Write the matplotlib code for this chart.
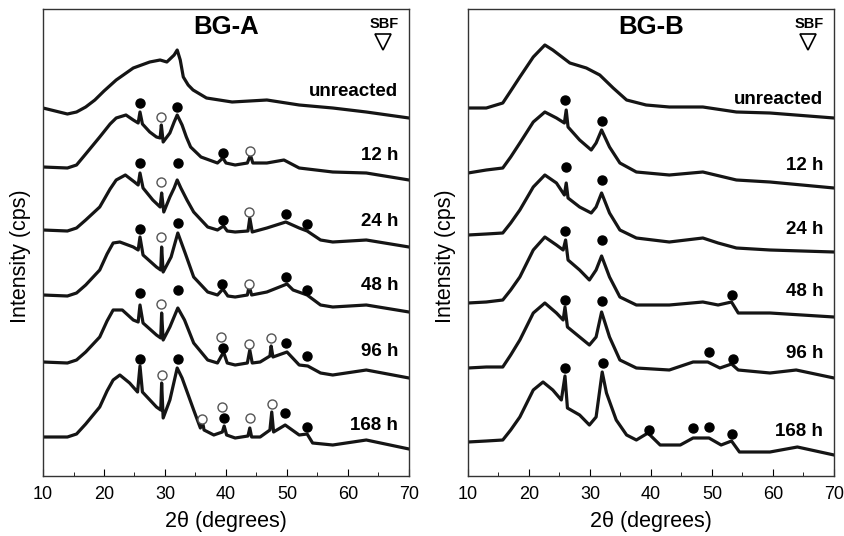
import numpy as np
import matplotlib
matplotlib.use("Agg")
import matplotlib.pyplot as plt
from matplotlib.ticker import MultipleLocator

plt.rcParams['font.family'] = ['Liberation Sans', 'DejaVu Sans']

# ---- BG-A traces (2theta, stacked intensity) ----
a_unr_x = [10, 12, 14, 15.5, 17, 18.5, 20, 22, 24.8, 27.5, 29.2, 30.3, 31.5, 32, 32.5, 33, 33.8, 34.6, 36.8, 41, 46.7,
           52, 57.5, 63, 70]
a_unr_y = [368, 365, 362, 364, 369, 376, 385, 396, 408, 414, 416, 414, 421, 426, 416, 399, 391, 386, 378, 374, 376,
           371, 368, 364, 358]

a_12_x = [10, 14, 15.5, 17, 19.3, 21, 22, 23.6, 24.8, 25.6, 25.9, 26.3, 27.5, 28.6, 29.2, 29.4, 29.7, 30.8, 31.5, 32,
          32.8, 33.5, 34.2, 35.9, 38.6, 39.5, 40, 41.5, 43.5, 44, 44.4, 46.7, 49.5, 52, 57.5, 63, 70]
a_12_y = [309, 308, 311, 322, 339, 352, 358, 361, 356, 353, 364, 352, 344, 339, 338, 351, 334, 343, 354, 361,
          351, 339, 329, 319, 313, 318, 313, 311, 313, 321, 313, 313, 316, 308, 304, 303, 296]

a_24_x = [10, 14, 15.5, 17, 19.3, 21, 22, 23.5, 25, 25.6, 25.9, 26.4, 28, 29.2, 29.45, 29.8, 30.8, 31.5, 32, 32.6,
          33.6, 34.7, 37, 38.6, 39.6, 40.2, 41.5, 43.6, 43.9, 44.3, 46.7, 49.8, 52, 53.3, 55.5, 57.5, 63, 70]
a_24_y = [246, 245, 248, 256, 269, 287, 296, 301, 294, 291, 303, 288, 276, 269, 283, 264, 279, 288, 296, 288,
          276, 264, 249, 246, 250, 245, 244, 245, 258, 244, 248, 254, 248, 245, 236, 234, 236, 229]

a_48_x = [10, 14, 15.5, 17, 19.3, 20.5, 21.5, 22.6, 24.8, 25.6, 25.9, 26.4, 28.6, 29.3, 29.45, 29.7, 31, 32.1, 33.3,
          34.7, 37, 38.6, 39.5, 40.3, 41.5, 43.5, 43.8, 44.2, 46.7, 50, 51, 53.3, 55.5, 57.5, 63, 70]
a_48_y = [181, 180, 183, 191, 206, 222, 233, 234, 229, 226, 239, 221, 209, 206, 229, 204, 219, 243, 223,
          199, 184, 181, 187, 180, 179, 181, 190, 181, 184, 192, 186, 181, 171, 169, 171, 164]

a_96_x = [10, 14, 15.5, 17, 19.3, 20.5, 21.5, 23, 24.8, 25.6, 25.9, 26.4, 28.6, 29.3, 29.45, 29.7, 30.8, 32.1, 33.2,
          34.7, 37, 38.6, 39.6, 40.2, 41.5, 43.5, 43.9, 44.3, 45.6, 47.2, 47.4, 47.7, 50, 52, 53.4, 55.5, 57.5, 63,
          70]
a_96_y = [114, 113, 116, 124, 139, 155, 166, 166, 156, 154, 171, 153, 141, 138, 163, 136, 149, 168, 156,
          133, 116, 113, 124, 113, 111, 113, 126, 113, 114, 120, 130, 119, 124, 111, 110, 103, 101, 106, 98]

a_168_x = [10, 14, 15.5, 17, 19.3, 20.5, 21.5, 22.6, 24.2, 25.5, 25.9, 26.3, 28.6, 29.3, 29.45, 29.7, 30.8, 32, 32.8,
           34.7, 35.8, 36.1, 36.4, 38, 39.4, 39.7, 40.1, 41.5, 43.6, 43.9, 44.2, 45.6, 47.2, 47.5, 47.8, 49.7, 52,
           53.3, 54.2, 57.5, 63, 70]
a_168_y = [39, 39, 42, 52, 69, 85, 96, 101, 93, 84, 110, 84, 69, 66, 93, 58, 76, 108, 98,
           66, 48, 56, 46, 41, 44, 50, 41, 38, 40, 48, 39, 39, 46, 64, 44, 51, 41,
           42, 33, 31, 36, 27]

# ---- BG-B traces ----
b_unr_x = [10, 13, 15.7, 17, 18.5, 20.7, 22.6, 23.9, 26.7, 29.4, 31.6, 33.8, 36, 39.2, 43, 48.5, 54, 59.5, 70]
b_unr_y = [368, 368, 373, 385, 399, 419, 431, 426, 413, 408, 401, 388, 376, 371, 369, 369, 364, 363, 358]

b_12_x = [10, 13, 15.7, 17, 18.5, 20.7, 22.6, 24.5, 25.8, 26.1, 26.4, 28.3, 30.2, 31, 31.9, 33.2, 34.9, 37.6, 43,
          48.5, 54, 59.5, 70]
b_12_y = [303, 306, 308, 319, 333, 354, 364, 358, 353, 366, 349, 336, 326, 333, 346, 329, 313, 304, 301,
          304, 296, 294, 288]

b_24_x = [10, 13, 15.7, 17, 18.5, 20.7, 22.6, 24.5, 25.8, 26.1, 26.4, 28.3, 30.2, 31, 31.9, 33.2, 34.9, 37.6, 43,
          48.5, 51, 54, 59.5, 70]
b_24_y = [241, 242, 243, 253, 266, 289, 301, 293, 281, 293, 278, 269, 263, 269, 283, 263, 246, 238, 234,
          238, 233, 228, 226, 224]

b_48_x = [10, 13, 15.7, 17, 18.5, 20.7, 22.6, 24.5, 25.6, 26, 26.4, 28.3, 29.9, 31, 31.9, 33.2, 34.9, 37.6, 43,
          48.5, 51, 53.2, 54.3, 59.5, 70]
b_48_y = [173, 174, 176, 186, 199, 226, 239, 231, 226, 236, 216, 206, 196, 206, 220, 199, 179, 171, 171,
          174, 171, 174, 163, 163, 159]

b_96_x = [10, 13, 15.7, 17, 18.5, 20.7, 22.6, 24.5, 25.6, 25.9, 26.3, 28.3, 29.9, 31, 31.9, 33.2, 34.9, 37.6, 43,
          46.9, 49.3, 51.3, 53.2, 54.3, 59.5, 63.8, 70]
b_96_y = [108, 109, 109, 121, 136, 163, 173, 163, 156, 169, 149, 139, 131, 139, 164, 139, 116, 108, 106,
          114, 114, 108, 112, 106, 103, 106, 98]

b_168_x = [10, 13, 15.7, 17, 18.5, 20.7, 22.3, 23.9, 25.3, 25.9, 26.3, 28.3, 29.9, 31, 32, 32.7, 34.3, 36, 37.6,
           39.5, 41.5, 44.8, 46.9, 49.5, 51.5, 53.2, 54.5, 59.5, 64, 70]
b_168_y = [34, 35, 36, 46, 59, 86, 94, 86, 76, 100, 68, 61, 51, 59, 104, 83, 56, 41, 36,
           43, 31, 31, 38, 38, 31, 35, 24, 24, 29, 21]

labels = ["unreacted", "12 h", "24 h", "48 h", "96 h", "168 h"]
a_label_y = [384, 320, 254, 191, 124, 51]
b_label_y = [377, 311, 246, 184, 122, 44]

# phase markers: filled = apatite, open = calcite
a_filled_x = [25.9, 32.0, 39.5,
              25.9, 32.1, 39.5, 49.9, 53.3,
              25.9, 32.1, 39.4, 49.9, 53.3,
              25.9, 32.1, 39.5, 49.9, 53.3,
              25.9, 32.1, 39.6, 49.7, 53.3]
a_filled_y = [373, 369, 323,
              313, 313, 256, 262, 252,
              247, 253, 192, 199, 186,
              183, 186, 128, 133, 120,
              117, 117, 58, 63, 49]
a_open_x = [29.4, 43.9,
            29.4, 43.8,
            29.4, 43.8,
            29.4, 39.2, 43.8, 47.4,
            29.5, 36.0, 39.3, 43.9, 47.5]
a_open_y = [359, 325,
            294, 264,
            239, 192,
            172, 139, 132, 138,
            101, 57, 69, 58, 72]

b_filled_x = [25.9, 32.0,
              26.1, 32.0,
              25.9, 32.0, 53.3,
              25.9, 32.0, 49.5, 53.4,
              25.9, 32.1, 39.7, 46.9, 49.5, 53.3]
b_filled_y = [376, 355,
              309, 296,
              245, 236, 181,
              176, 175, 124, 117,
              108, 113, 46, 48, 49, 42]


def draw_panel(ax, traces, label_y, title, filled, opened=None):
    for x, y in traces:
        ax.plot(x, y, color='#151515', lw=2.3, solid_joinstyle='round')
    ax.plot(filled[0], filled[1], 'o', ms=6.5, color='black', ls='none')
    if opened is not None:
        ax.plot(opened[0], opened[1], 'o', ms=6.5, mfc='white', mec='#555555', mew=1.0, ls='none')
    for lab, ly in zip(labels, label_y):
        ax.text(68.2, ly, lab, ha='right', va='center', fontsize=13.5, fontweight='bold')
    ax.text(40, 449, title, ha='center', va='center', fontsize=18.5, fontweight='bold')
    ax.text(65.9, 452, "SBF", ha='center', va='center', fontsize=10.5, fontweight='bold')
    ax.plot([65.7], [434], 'v', ms=12, mfc='white', mec='black', mew=1.2)
    ax.set_xlim(10, 70)
    ax.set_ylim(0, 467)
    ax.xaxis.set_major_locator(MultipleLocator(10))
    ax.xaxis.set_minor_locator(MultipleLocator(5))
    ax.tick_params(axis='x', which='major', direction='in', length=5, labelsize=13, pad=7, top=False)
    ax.tick_params(axis='x', which='minor', direction='in', length=3, top=False)
    ax.set_yticks([])
    for sp in ax.spines.values():
        sp.set_color('#333333')
        sp.set_linewidth(1.0)
    ax.set_xlabel("2θ (degrees)", fontsize=15.5, labelpad=6)
    ax.set_ylabel("Intensity (cps)", fontsize=15.5)
    ax.yaxis.set_label_coords(-0.032, 0.47)


fig = plt.figure(figsize=(8.45, 5.36), dpi=100, facecolor='white')
ax1 = fig.add_axes([43 / 845, 60 / 536, 366 / 845, 467 / 536])
ax2 = fig.add_axes([468 / 845, 60 / 536, 366 / 845, 467 / 536])

a_traces = [(a_unr_x, a_unr_y), (a_12_x, a_12_y), (a_24_x, a_24_y),
            (a_48_x, a_48_y), (a_96_x, a_96_y), (a_168_x, a_168_y)]
b_traces = [(b_unr_x, b_unr_y), (b_12_x, b_12_y), (b_24_x, b_24_y),
            (b_48_x, b_48_y), (b_96_x, b_96_y), (b_168_x, b_168_y)]

draw_panel(ax1, a_traces, a_label_y, "BG-A", (a_filled_x, a_filled_y), (a_open_x, a_open_y))
draw_panel(ax2, b_traces, b_label_y, "BG-B", (b_filled_x, b_filled_y))

fig.savefig("out.png", dpi=100, facecolor='white')
